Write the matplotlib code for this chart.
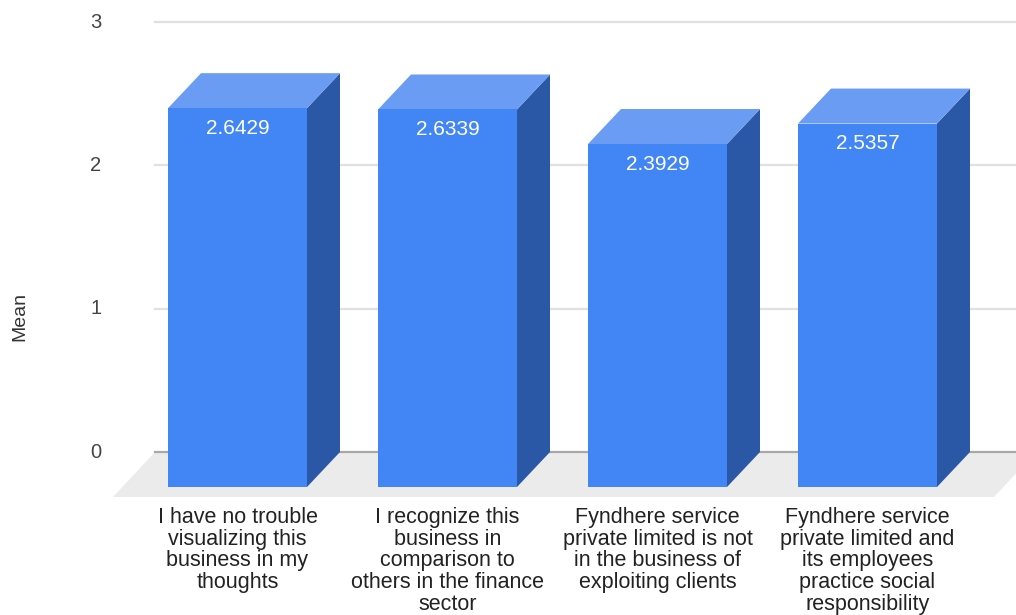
import matplotlib
matplotlib.use("Agg")
import matplotlib.pyplot as plt
from matplotlib.patches import Polygon

# ---- data ----
categories = [
    "I have no trouble\nvisualizing this\nbusiness in my\nthoughts",
    "I recognize this\nbusiness in\ncomparison to\nothers in the finance\nsector",
    "Fyndhere service\nprivate limited is not\nin the business of\nexploiting clients",
    "Fyndhere service\nprivate limited and\nits employees\npractice social\nresponsibility",
]
means = [2.6429, 2.6339, 2.3929, 2.5357]
value_labels = ["2.6429", "2.6339", "2.3929", "2.5357"]
y_ticks = [0, 1, 2, 3]
y_title = "Mean"

# ---- style ----
FRONT = "#4285f4"
TOP = "#6a9cf3"
SIDE = "#2b57a7"
FLOOR = "#ebebeb"
GRID = "#e0e0e0"
ZERO = "#a8a8a8"
FONT = "Liberation Sans"

W, H = 1016, 615
PX_X = 210.0      # pixels per category step
PX_Y = 143.33     # pixels per value unit
X0_PX = 270.5     # pixel column of the first bar's back centre
Y0_PX = 163.0     # pixel row (from bottom) of the value 0 plane

DX, DY = 33 / PX_X, 35 / PX_Y          # bar depth offset
FDX, FDY = 42 / PX_X, 45 / PX_Y        # floor depth offset
HW = 69.5 / PX_X                        # half bar width

fig = plt.figure(figsize=(W / 100, H / 100), dpi=100)
ax = fig.add_axes([0, 0, 1, 1])
ax.set_xlim(-X0_PX / PX_X, (W - X0_PX) / PX_X)
ax.set_ylim(-Y0_PX / PX_Y, (H - Y0_PX) / PX_Y)
ax.axis("off")

gx0 = (155 - X0_PX) / PX_X
gx1 = (W + 20 - X0_PX) / PX_X

# gridlines on the back wall
for t in y_ticks[1:]:
    ax.plot([gx0, gx1], [t, t], color=GRID, lw=1.6, zorder=1)

# floor
ax.add_patch(Polygon([(gx0, 0), (gx1, 0), (gx1 - FDX, -FDY), (gx0 - FDX, -FDY)],
                     closed=True, facecolor=FLOOR, edgecolor="none", zorder=2))
ax.plot([gx0, gx1], [0, 0], color=ZERO, lw=1.6, zorder=3)

# tick labels
for t in y_ticks:
    ax.text((96 - X0_PX) / PX_X, t, str(t), ha="center", va="center",
            fontsize=14.5, color="#444444", family=FONT, zorder=5)

ax.text((20 - X0_PX) / PX_X, (H - 316 - Y0_PX) / PX_Y, y_title, rotation=90,
        ha="center", va="center", fontsize=14, color="#333333", family=FONT)

# 3-D bars
for i, (v, lab, cat) in enumerate(zip(means, value_labels, categories)):
    xl, xr = i - HW, i + HW
    side = [(xr - DX, -DY), (xr, 0), (xr, v), (xr - DX, v - DY)]
    top = [(xl - DX, v - DY), (xr - DX, v - DY), (xr, v), (xl, v)]
    front = [(xl - DX, -DY), (xr - DX, -DY), (xr - DX, v - DY), (xl - DX, v - DY)]
    for pts, col in ((side, SIDE), (top, TOP), (front, FRONT)):
        ax.add_patch(Polygon(pts, closed=True, facecolor=col, edgecolor="none", zorder=4))
    ax.text(i - DX, v - DY - 20 / PX_Y, lab, ha="center", va="center",
            fontsize=15, color="white", family=FONT, zorder=6)
    ax.text(i - DX, (H - 507 - Y0_PX) / PX_Y, cat, ha="center", va="top",
            fontsize=15.5, color="#222222", family=FONT, linespacing=1.04, zorder=6)

fig.savefig("out.png", dpi=100, facecolor="white")
